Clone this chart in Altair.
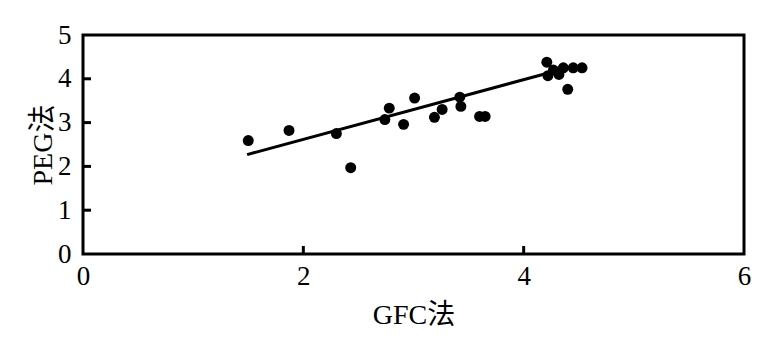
import altair as alt
import pandas as pd

gfc = [1.50, 1.87, 2.30, 2.43, 2.74, 2.78, 2.91, 3.01, 3.19, 3.26, 3.42, 3.43, 3.60, 3.65,
       4.21, 4.22, 4.27, 4.32, 4.36, 4.45, 4.53, 4.40]
peg = [2.59, 2.82, 2.75, 1.97, 3.07, 3.33, 2.96, 3.56, 3.12, 3.30, 3.58, 3.37, 3.14, 3.14,
       4.38, 4.07, 4.20, 4.10, 4.25, 4.25, 4.25, 3.76]
fit_x = [1.49, 4.19]
fit_y = [2.27, 4.11]
x_ticks = [0, 2, 4, 6]
y_ticks = [0, 1, 2, 3, 4, 5]

FONT = "'Liberation Serif', 'Noto Sans CJK SC', serif"
W, H = 661, 219

pts = pd.DataFrame({"x": gfc, "y": peg})
fit = pd.DataFrame({"x": fit_x, "y": fit_y})
xt = pd.DataFrame({"v": x_ticks[1:-1]})
yt = pd.DataFrame({"v": y_ticks[1:-1]})

xs = alt.Scale(domain=[0, 6], nice=False)
ys = alt.Scale(domain=[0, 5], nice=False)

xaxis = alt.Axis(values=x_ticks, format="d", title="GFC法", ticks=False, grid=False, domain=False,
                 labelFont=FONT, labelFontSize=27, labelColor="black", labelPadding=9,
                 labelFlush=False, labelOverlap=False,
                 titleFont=FONT, titleFontSize=28, titleFontWeight="normal", titleColor="black",
                 titlePadding=12, labelAngle=0)
yaxis = alt.Axis(values=y_ticks, format="d", title="PEG法", ticks=False, grid=False, domain=False,
                 labelFont=FONT, labelFontSize=27, labelColor="black", labelPadding=12,
                 labelFlush=False, labelOverlap=False,
                 titleFont=FONT, titleFontSize=28, titleFontWeight="normal", titleColor="black",
                 titlePadding=0)

scatter = alt.Chart(pts).mark_circle(size=120, color="black", opacity=1).encode(
    x=alt.X("x:Q", scale=xs, axis=xaxis),
    y=alt.Y("y:Q", scale=ys, axis=yaxis),
)
line = alt.Chart(fit).mark_line(color="black", strokeWidth=3).encode(
    x=alt.X("x:Q", scale=xs),
    y=alt.Y("y:Q", scale=ys),
)
xtick = alt.Chart(xt).mark_rule(color="black", strokeWidth=3).encode(
    x=alt.X("v:Q", scale=xs),
    y=alt.value(H - 8),
    y2=alt.value(H),
)
ytick = alt.Chart(yt).mark_rule(color="black", strokeWidth=3).encode(
    y=alt.Y("v:Q", scale=ys),
    x=alt.value(0),
    x2=alt.value(8),
)

chart = alt.layer(line, scatter, xtick, ytick).properties(
    width=W, height=H,
    background="white",
    autosize=alt.AutoSizeParams(type="none"),
    padding={"left": 83, "top": 35, "right": 23, "bottom": 100},
).configure_view(stroke="black", strokeWidth=3)

chart.save("out.html", embed_options={"renderer": "svg", "actions": False})
